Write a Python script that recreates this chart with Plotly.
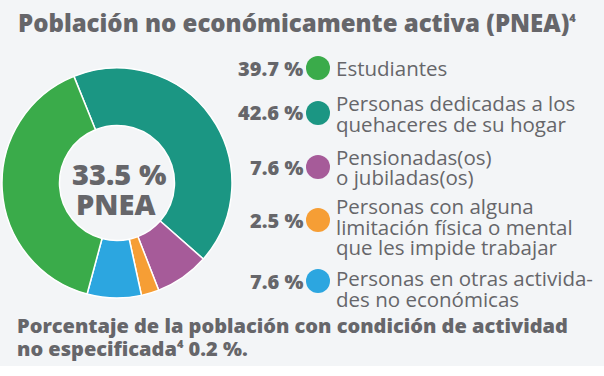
import plotly.graph_objects as go

W, H = 604, 376

# Data
categories = ["Personas dedicadas a los quehaceres de su hogar",
              "Pensionadas(os) o jubiladas(os)",
              "Personas con alguna limitación física o mental que les impide trabajar",
              "Personas en otras actividades no económicas",
              "Estudiantes"]
values = [42.6, 7.6, 2.5, 7.6, 39.7]
colors = ["#1b9683", "#a65b99", "#f69e35", "#2ca6e0", "#3aab4a"]

legend_order = [4, 0, 1, 2, 3]
legend_pct = ["39.7 %", "42.6 %", "7.6 %", "2.5 %", "7.6 %"]
legend_lines = [["Estudiantes"],
                ["Personas dedicadas a los", "quehaceres de su hogar"],
                ["Pensionadas(os)", "o jubiladas(os)"],
                ["Personas con alguna", "limitación física o mental", "que les impide trabajar"],
                ["Personas en otras activida-", "des no económicas"]]
center_value = "33.5 %"
center_label = "PNEA"
SUP = "<sup><span style='font-size:11px'>4</span></sup>"
title = "Población no económicamente activa (PNEA)" + SUP
note = ["Porcentaje de la población con condición de actividad",
        "no especificada" + SUP + " 0.2 %."]

# Layout positions (pixels from top)
circle_y = [68, 113, 167, 220, 281]
text_y0 = [68, 103, 157, 206, 278]

GREY = "#66666a"
FONT = "Open Sans"

def px(x):
    return x / W

def py(y):
    return 1 - y / H

fig = go.Figure()
fig.add_trace(go.Pie(
    labels=categories, values=values, sort=False, direction="clockwise",
    rotation=-22, hole=0.5, textinfo="none", hoverinfo="label+percent",
    marker=dict(colors=colors, line=dict(color="white", width=1.5)),
    domain=dict(x=[px(2), px(232)], y=[py(298), py(68)]),
    showlegend=False,
))

ann = []
ann.append(dict(text=title, x=px(16), y=py(22), xanchor="left", yanchor="middle",
                font=dict(size=24, color=GREY, family=FONT, weight=800)))
ann.append(dict(text=center_value, x=px(119), y=py(173), xanchor="center", yanchor="middle",
                font=dict(size=29, color=GREY, family=FONT, weight=800)))
ann.append(dict(text=center_label, x=px(116), y=py(204), xanchor="center", yanchor="middle",
                font=dict(size=29, color=GREY, family=FONT, weight=800)))

shapes = [dict(type="rect", xref="paper", yref="paper", x0=0, x1=1, y0=0, y1=py(366),
               fillcolor="white", line=dict(width=0), layer="below")]

for i, k in enumerate(legend_order):
    cy = circle_y[i]
    shapes.append(dict(type="circle", xref="paper", yref="paper",
                       x0=px(306), x1=px(330), y0=py(cy + 12), y1=py(cy - 12),
                       fillcolor=colors[k], line=dict(width=0)))
    ann.append(dict(text=legend_pct[i], x=px(305), y=py(cy), xanchor="right", yanchor="middle",
                    font=dict(size=20, color=GREY, family=FONT, weight=800)))
    for j, line in enumerate(legend_lines[i]):
        ly = text_y0[i] + j * 20.5
        ann.append(dict(text=line, x=px(334), y=py(ly), xanchor="left", yanchor="middle",
                        font=dict(size=20.5, color=GREY, family=FONT)))

for j, line in enumerate(note):
    ann.append(dict(text=line, x=px(15), y=py(325 + j * 23), xanchor="left", yanchor="middle",
                    font=dict(size=20, color=GREY, family=FONT, weight=800)))

for a in ann:
    a.update(xref="paper", yref="paper", showarrow=False)

fig.update_layout(
    width=W, height=H, margin=dict(l=0, r=0, t=0, b=0),
    paper_bgcolor="#f3f5f7", plot_bgcolor="#f3f5f7",
    annotations=ann, shapes=shapes,
)
fig.write_html("out.html", config={"displayModeBar": False},
               post_script="document.body.style.margin='0';document.body.style.background='#f3f5f7';")
